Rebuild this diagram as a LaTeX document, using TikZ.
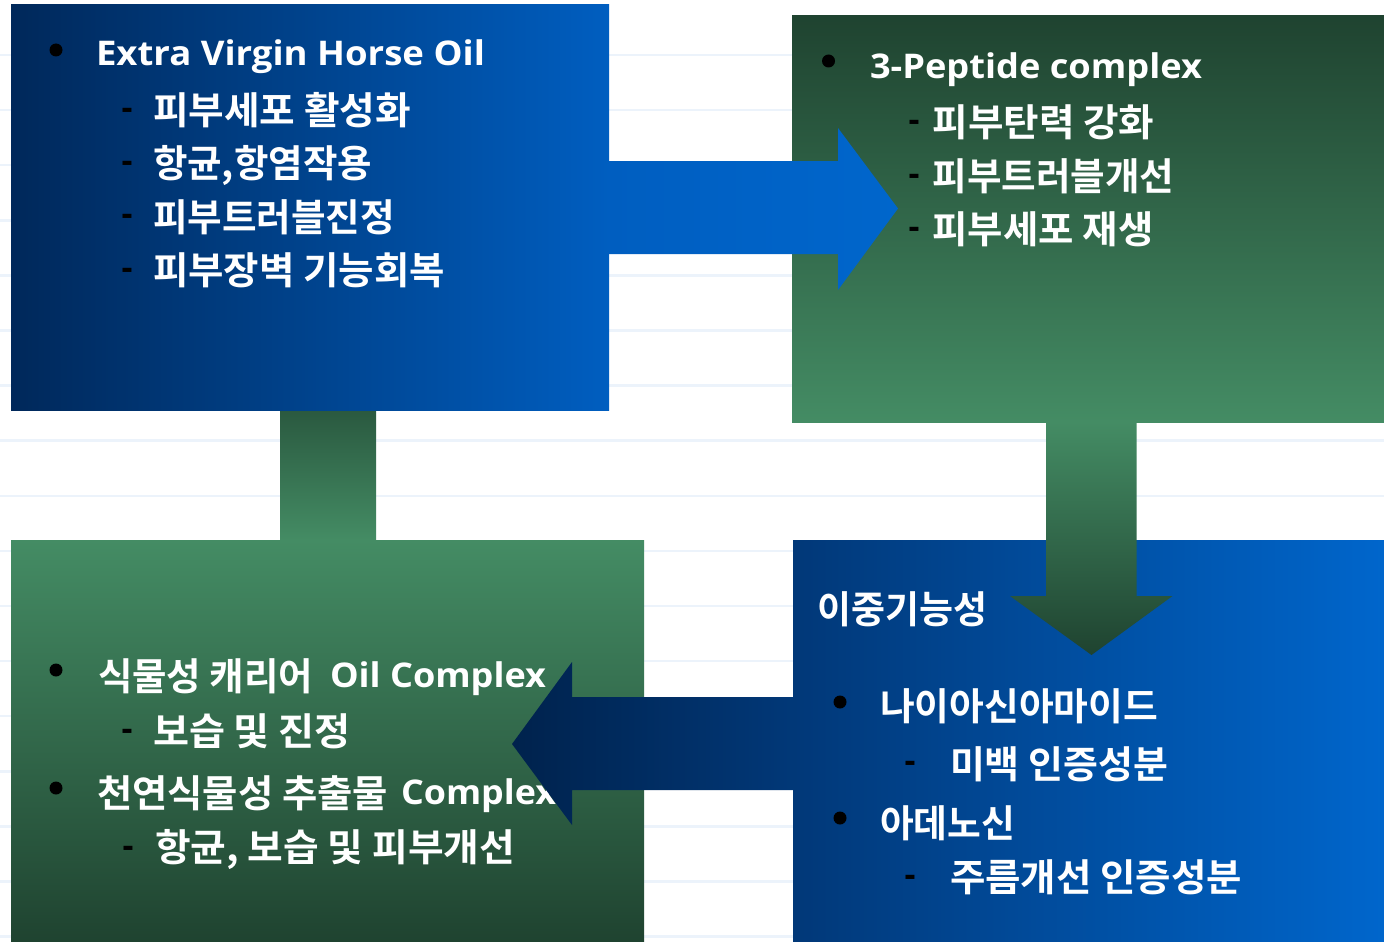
\documentclass[tikz,border=0pt]{standalone}
\usepackage{fontspec}
\usepackage{graphicx}
\newfontfamily\krfam{Noto Sans CJK KR Bold}
\newfontfamily\latfam{Open Sans}
\newcommand\krf{\fontsize{38}{40}\selectfont\krfam}
\newcommand\latf{\fontsize{34}{40}\selectfont\latfam\bfseries}
\newcommand\dashf{\fontsize{34}{40}\selectfont\latfam\bfseries}
\newcommand\fitw[2]{\resizebox{#1pt}{\height}{#2}}
\definecolor{navyL}{HTML}{00285A}
\definecolor{blueR}{HTML}{005EC0}
\definecolor{navyB}{HTML}{013878}
\definecolor{blueB}{HTML}{0066CC}
\definecolor{gDark}{HTML}{1F4330}
\definecolor{gLight}{HTML}{448C64}
\definecolor{gMid}{HTML}{3D7F59}
\definecolor{stripe}{HTML}{ECF3FB}
\tikzset{
  box/.style={rectangle, inner sep=0pt, outer sep=0pt, draw=none},
  txt/.style={anchor=base west, inner sep=0pt, outer sep=0pt, text=white},
  dot/.style={circle, fill=black, inner sep=0pt, minimum size=13pt},
  dsh/.style={anchor=base, inner sep=0pt, text=black, font=\dashf},
  stripeline/.style={draw=stripe, line width=2.5pt}
}
\begin{document}
\begin{tikzpicture}[x=1pt,y=-1pt]
\useasboundingbox (0,0) rectangle (1384,942);
\fill[white] (0,0) rectangle (1384,942);
\foreach \k in {0,...,16} \draw[stripeline] (0,55+55.1*\k) -- (1384,55+55.1*\k);

% connector between box 1 and box 3
\node[box, top color=gDark!70!gLight, bottom color=gLight, minimum width=96pt, minimum height=130pt] (c13) at (328,475) {};

% boxes
\node[box, top color=gDark, middle color=gMid, bottom color=gLight, minimum width=592pt, minimum height=406pt] (b2) at (1088,219) {};
\node[box, left color=navyL, right color=blueR, minimum width=598pt, minimum height=405pt] (b1) at (310,207.5) {};
\node[box, top color=gLight, middle color=gLight!97!gDark, bottom color=gDark, minimum width=633pt, minimum height=402pt] (b3) at (327.5,741) {};
\node[box, left color=navyB, right color=blueB, minimum width=591pt, minimum height=402pt] (b4) at (1088.5,741) {};

% box 1 text
\node[dot] (d11) at (56,50) {};
\node[txt] (t11) at (96,66) {\fitw{389}{\latf Extra Virgin Horse Oil}};
\node[dsh] (h12) at (127,119.4) {-};
\node[txt] (t12) at (153,124.6) {\fitw{258}{\krf 피부세포 활성화}};
\node[dsh] (h13) at (127,172.4) {-};
\node[txt] (t13) at (153,177.6) {\fitw{219}{\krf 항균,항염작용}};
\node[dsh] (h14) at (127,225.9) {-};
\node[txt] (t14) at (153,231) {\fitw{242}{\krf 피부트러블진정}};
\node[dsh] (h15) at (127,279.4) {-};
\node[txt] (t15) at (153,284.6) {\fitw{292}{\krf 피부장벽 기능회복}};

% box 2 text
\node[dot] (d21) at (828.5,61) {};
\node[txt] (t21) at (870,78) {\fitw{332}{\latf 3-Peptide complex}};
\node[dsh] (h22) at (914,131.4) {-};
\node[txt] (t22) at (932.5,136.6) {\fitw{222}{\krf 피부탄력 강화}};
\node[dsh] (h23) at (914,185.4) {-};
\node[txt] (t23) at (932.5,190.6) {\fitw{242}{\krf 피부트러블개선}};
\node[dsh] (h24) at (914,238.4) {-};
\node[txt] (t24) at (932.5,243.6) {\fitw{221}{\krf 피부세포 재생}};

% box 3 text
\node[dot] (d31) at (56,670) {};
\node[txt] (t31) at (98,690.7) {\fitw{215}{\krf 식물성 캐리어}\hspace{17pt}\raisebox{3.7pt}{\fitw{216}{\latf Oil Complex}}};
\node[dsh] (h32) at (127,740.4) {-};
\node[txt] (t32) at (153,745.6) {\fitw{198}{\krf 보습 및 진정}};
\node[dot] (d33) at (56,788) {};
\node[txt] (t33) at (97,807.6) {\fitw{291}{\krf 천연식물성 추출물}\hspace{13pt}\raisebox{3.6pt}{\fitw{155}{\latf Complex}}};
\node[dsh] (h34) at (128,857.4) {-};
\node[txt] (t34) at (155,861.6) {\fitw{360}{\krf 항균, 보습 및 피부개선}};

% box 4 text
\node[txt] (t40) at (817,623.6) {\fitw{170}{\krf 이중기능성}};
\node[dot] (d41) at (840,702) {};
\node[txt] (t41) at (880,720.6) {\fitw{278}{\krf 나이아신아마이드}};
\node[dsh] (h42) at (910,772.4) {-};
\node[txt] (t42) at (950,778.6) {\fitw{218}{\krf 미백 인증성분}};
\node[dot] (d43) at (840,818) {};
\node[txt] (t43) at (880,837.6) {\fitw{135}{\krf 아데노신}};
\node[dsh] (h44) at (910,886.4) {-};
\node[txt] (t44) at (950,891.6) {\fitw{292}{\krf 주름개선 인증성분}};

% block arrows
\coordinate (a1s) at (b1.east |- 0,207.5);
\coordinate (a1t) at (898,208.5);
\shade[left color=blueR, right color=blueB]
  (a1s) ++(0,-46.5) -- ++(229,0) -- ++(0,-33) -- (a1t) -- ++(-60,81.5) -- ++(0,-36) -- ++(-229,0) -- cycle;

\coordinate (a3s) at (b2.south -| 1091.25,0);
\coordinate (a3t) at (1091.5,655);
\shade[top color=gLight, bottom color=gDark]
  (a3s) ++(-45.25,0) -- ++(90.5,0) -- ++(0,174) -- ++(36,0) -- (a3t) -- ++(-81.5,-59) -- ++(36,0) -- cycle;

\coordinate (a4s) at (b4.west |- 0,743.5);
\coordinate (a4t) at (512,744);
\shade[left color=navyL!85!black, right color=navyB]
  (a4s) ++(0,-46.5) -- ++(-221,0) -- ++(0,-35) -- (a4t) -- ++(60,81) -- ++(0,-35) -- ++(221,0) -- cycle;
\end{tikzpicture}
\end{document}
